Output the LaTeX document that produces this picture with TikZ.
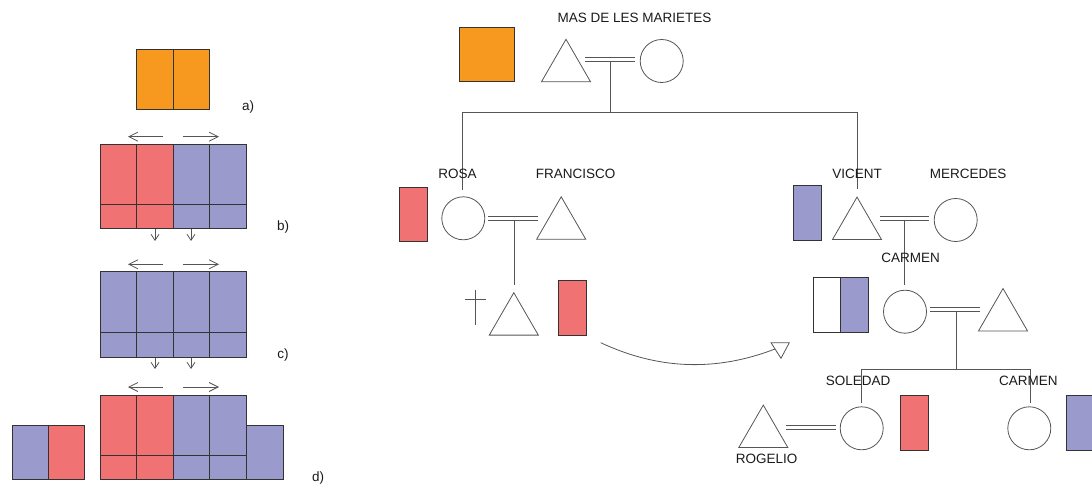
\documentclass[tikz,border=0pt]{standalone}
\usepackage{fontspec}
\setmainfont{Liberation Sans}
\usetikzlibrary{arrows.meta}
\definecolor{org}{HTML}{F7991E}
\definecolor{rd}{HTML}{F07272}
\definecolor{bl}{HTML}{9A9ACC}
\definecolor{lg}{HTML}{555555}
\definecolor{bd}{HTML}{333333}
\definecolor{tx}{HTML}{1A1A1A}
\newcommand{\marrline}[2]{\draw[kin] ([yshift=2.2pt]#1) -- ([yshift=2.2pt]#2) ([yshift=-2.2pt]#1) -- ([yshift=-2.2pt]#2);}
\begin{document}
\begin{tikzpicture}[x=1pt,y=-1pt,
  kin/.style={draw=lg, line width=0.8pt},
  pers/.style={circle, draw=lg, line width=0.8pt, minimum size=43pt, inner sep=0pt},
  box/.style={rectangle, draw=bd, line width=0.8pt, inner sep=0pt, minimum width=28pt, minimum height=55pt},
  lbl/.style={text=tx, font=\fontsize{13.5}{15}\selectfont, inner sep=0pt},
  harr/.style={draw=lg, line width=0.8pt, -{Straight Barb[length=9pt,width=9pt]}},
  varr/.style={draw=lg, line width=0.8pt, -{Straight Barb[length=6pt,width=8pt]}},
  grid/.style={draw=bd, line width=0.8pt},
  tri/.pic={\draw[kin] (-24.5,21.2) -- (0,-21.2) -- (24.5,21.2) -- cycle; \coordinate (-c) at (0,0);},
  itri/.pic={\draw[kin] (-9.2,-5.3) -- (9.1,-5.3) -- (0.8,10.3) -- cycle; \coordinate (-c) at (0,0);}
]
\useasboundingbox (0,0) rectangle (1092,486);

% ---------- left panel ----------
% a)
\fill[org] (136.7,49) rectangle (209.3,109.3);
\draw[grid] (136.7,49) rectangle (209.3,109.3) (173.3,49) -- (173.3,109.3);
\node[lbl] (la) at (248,107) {a)};
% b)
\fill[rd] (100.7,144) rectangle (173.3,228.7);
\fill[bl] (173.3,144) rectangle (246.7,228.7);
\draw[grid] (100.7,144) rectangle (246.7,228.7) (100.7,204) -- (246.7,204);
\foreach \x in {136.3,173.3,209.3} \draw[grid] (\x,144) -- (\x,228.7);
\node[lbl] (lb) at (283,227) {b)};
% c)
\fill[bl] (100.7,271.7) rectangle (246.7,357);
\draw[grid] (100.7,271.7) rectangle (246.7,357) (100.7,332.7) -- (246.7,332.7);
\foreach \x in {136.3,173.3,209.3} \draw[grid] (\x,271.7) -- (\x,357);
\node[lbl] (lc) at (283,355) {c)};
% d)
\fill[rd] (100.7,395) rectangle (173.3,479.3);
\fill[bl] (173.3,395) rectangle (246.7,479.3);
\draw[grid] (100.7,395) rectangle (246.7,479.3) (100.7,455.7) -- (246.7,455.7);
\foreach \x in {136.3,173.3,209.3} \draw[grid] (\x,395) -- (\x,479.3);
\fill[bl] (246.7,425.3) rectangle (283,479.3);
\draw[grid] (246.7,425.3) rectangle (283,479.3);
\fill[bl] (12,425.3) rectangle (48.7,479.3);
\fill[rd] (48.7,425.3) rectangle (84.7,479.3);
\draw[grid] (12,425.3) rectangle (84.7,479.3) (48.7,425.3) -- (48.7,479.3);
\node[lbl] (ld) at (318,478) {d)};
% arrows
\foreach \n/\y in {a/136.7,b/264.3,c/387}{
  \coordinate (hl\n) at (163,\y); \coordinate (hlt\n) at (128,\y);
  \coordinate (hr\n) at (183,\y); \coordinate (hrt\n) at (219,\y);
  \draw[harr] (hl\n) -- (hlt\n);
  \draw[harr] (hr\n) -- (hrt\n);
}
\foreach \n/\ya/\yb in {a/229.5/241,b/357.5/369}{
  \coordinate (v1\n) at (155,\ya); \coordinate (v1t\n) at (155,\yb);
  \coordinate (v2\n) at (191,\ya); \coordinate (v2t\n) at (191,\yb);
  \draw[varr] (v1\n) -- (v1t\n);
  \draw[varr] (v2\n) -- (v2t\n);
}

% ---------- kinship diagram ----------
\node[lbl] (tmas) at (634.5,17.5) {MAS DE LES MARIETES};
\node[box, fill=org, minimum width=55.7pt, minimum height=54.7pt] (Q0) at (486.9,54.4) {};
\pic (T0) at (566,60.5) {tri};
\node[pers] (C0) at (661.7,61) {};
\coordinate (m0a) at (585,59.5); \coordinate (m0b) at (635,59.5);
\coordinate (d0a) at (610,61.8); \coordinate (d0b) at (610,112.7);
\coordinate (s0l) at (462.7,112.7); \coordinate (s0r) at (857,112.7);
\coordinate (s0lb) at (462.7,190); \coordinate (s0rb) at (857,189.3);
\draw[kin] (d0a) -- (d0b);
\draw[kin] (s0lb) -- (s0l) -- (s0r) -- (s0rb);
\marrline{m0a}{m0b}

% Rosa & Francisco
\node[lbl] (trosa) at (457.5,174) {ROSA};
\node[lbl] (tfran) at (575.7,174) {FRANCISCO};
\node[box, fill=rd, minimum height=54.4pt] (R1) at (413.3,214.5) {};
\node[pers] (C1) at (463.3,218.3) {};
\pic (T1) at (561.2,218) {tri};
\coordinate (m1a) at (488.3,218.7); \coordinate (m1b) at (538.3,218.7);
\coordinate (d1a) at (514,220.9); \coordinate (d1b) at (514,285);
\draw[kin] (d1a) -- (d1b);
\marrline{m1a}{m1b}

% son (deceased)
\coordinate (x1) at (475.7,290); \coordinate (x2) at (475.7,325);
\coordinate (x3) at (465,299); \coordinate (x4) at (486,299);
\draw[kin] (x1) -- (x2) (x3) -- (x4);
\pic (T2) at (513.8,313.9) {tri};
\node[box, fill=rd] (R2) at (572,307.5) {};
\coordinate (cva) at (600.7,342.7);
\pic (T3) at (780.2,348) {itri};
\coordinate (cvb) at (775,349);
\draw[kin] (cva) .. controls (658.2,369.6) and (715.8,371.8) .. (cvb);

% Vicent & Mercedes
\node[lbl] (tvic) at (857,174) {VICENT};
\node[lbl] (tmer) at (968,174) {MERCEDES};
\node[box, fill=bl] (B1) at (807.5,212.5) {};
\pic (T4) at (857,218.3) {tri};
\node[pers] (C4) at (955.7,220) {};
\coordinate (m4a) at (880,218.7); \coordinate (m4b) at (929.3,218.7);
\coordinate (d4a) at (904.3,220.9); \coordinate (d4b) at (904.3,285);
\draw[kin] (d4a) -- (d4b);
\marrline{m4a}{m4b}
\node[lbl] (tcar) at (910.5,257.7) {CARMEN};

% Carmen
\node[box, fill=white, minimum width=27.4pt] (H1) at (827,305.2) {};
\node[box, fill=bl, minimum width=27.6pt] (H2) at (854.5,305.2) {};
\node[pers] (C5) at (905,311.7) {};
\pic (T5) at (1003,309.7) {tri};
\coordinate (m5a) at (930,309.2); \coordinate (m5b) at (980,309.2);
\coordinate (d5a) at (956.5,311.4); \coordinate (d5b) at (956.5,369);
\coordinate (s5l) at (861.7,369); \coordinate (s5r) at (1030,369);
\coordinate (s5lb) at (861.7,402.7); \coordinate (s5rb) at (1030,402.7);
\draw[kin] (d5a) -- (d5b);
\draw[kin] (s5lb) -- (s5l) -- (s5r) -- (s5rb);
\marrline{m5a}{m5b}

% Soledad, Rogelio, Carmen
\node[lbl] (tsol) at (858,380.7) {SOLEDAD};
\node[lbl] (tcar2) at (1028.3,380.7) {CARMEN};
\pic (T6) at (763.3,426.3) {tri};
\node[lbl] (trog) at (766.7,459.3) {ROGELIO};
\coordinate (m6a) at (786,427.2); \coordinate (m6b) at (836,427.2);
\marrline{m6a}{m6b}
\node[pers] (C6) at (861.7,428.3) {};
\node[box, fill=rd] (R6) at (914.2,422.5) {};
\node[pers] (C7) at (1029.3,428.3) {};
\node[box, fill=bl] (B7) at (1080,422.5) {};
\end{tikzpicture}
\end{document}
